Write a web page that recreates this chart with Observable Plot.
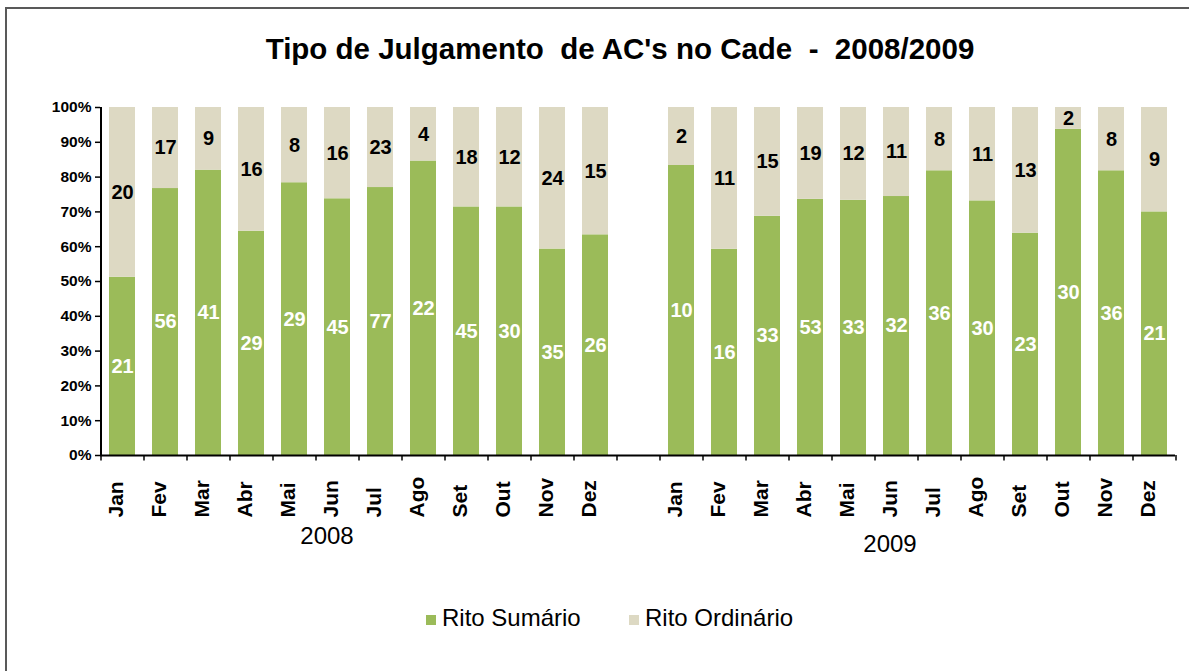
<!DOCTYPE html>
<html>
<head>
<meta charset="utf-8">
<script src="https://cdn.jsdelivr.net/npm/d3@7"></script>
<script src="https://cdn.jsdelivr.net/npm/@observablehq/plot@0.6"></script>
<style>
  html, body { margin: 0; padding: 0; background: #fff; }
  body { width: 1189px; height: 671px; position: relative; overflow: hidden; font-family: "Liberation Sans", Arial, sans-serif; }
  #frame { position: absolute; left: 5px; top: 7px; width: 1300px; height: 800px; border-left: 2px solid #595959; border-top: 2px solid #595959; }
  #title { position: absolute; left: 0; top: 32px; width: 1240px; text-align: center; font-size: 29.5px; font-weight: bold; white-space: pre; color: #000; }
  #chart { position: absolute; left: 0; top: 0; }
  .year { position: absolute; font-size: 24px; color: #000; transform: translateX(-50%); }
  #legend { position: absolute; top: 604px; left: 0; width: 1189px; height: 30px; }
  .lg { position: absolute; top: 0; font-size: 24px; color: #000; white-space: nowrap; }
  .sw { position: absolute; top: 11px; width: 10px; height: 10px; }
</style>
</head>
<body>
<div id="frame"></div>
<div id="title"></div>
<div id="chart"></div>
<div id="years"></div>
<div id="legend"></div>
<script>
const titleText = "Tipo de Julgamento  de AC's no Cade  -  2008/2009";
const months = ["Jan","Fev","Mar","Abr","Mai","Jun","Jul","Ago","Set","Out","Nov","Dez"];
const years = ["2008","2009"];
const series = ["Rito Sumário","Rito Ordinário"];
const colors = ["#9BBB59","#DDD9C3"];
const sumario2008   = [21,56,41,29,29,45,77,22,45,30,35,26];
const ordinario2008 = [20,17, 9,16, 8,16,23, 4,18,12,24,15];
const sumario2009   = [10,16,33,53,33,32,36,30,23,30,36,21];
const ordinario2009 = [ 2,11,15,19,12,11, 8,11,13, 2, 8, 9];
const yTicks = [0,0.1,0.2,0.3,0.4,0.5,0.6,0.7,0.8,0.9,1];

const valuesByYear = {
  "2008": [sumario2008, ordinario2008],
  "2009": [sumario2009, ordinario2009]
};

const domain = [];
const rows = [];
years.forEach((yr, yi) => {
  if (yi > 0) domain.push("gap");
  months.forEach((m, i) => {
    const key = m + " " + yr;
    domain.push(key);
    series.forEach((s, si) => {
      rows.push({key, month: m, year: yr, series: s, value: valuesByYear[yr][si][i]});
    });
  });
});
const labelKeys = domain.filter(d => d !== "gap");

const W = 1189, mL = 100, mR = 14;
const step = (W - mL - mR) / domain.length;

document.getElementById("title").textContent = titleText;

const chart = Plot.plot({
  width: W,
  height: 560,
  marginLeft: mL,
  marginRight: mR,
  marginTop: 107,
  marginBottom: 105,
  style: {fontFamily: "'Liberation Sans', Arial, sans-serif", background: "transparent", overflow: "visible"},
  x: {domain, paddingInner: 0.4, paddingOuter: 0.2, axis: null},
  y: {domain: [0, 1], axis: null},
  color: {domain: series, range: colors},
  marks: [
    Plot.barY(rows, Plot.stackY({x: "key", y: "value", fill: "series", offset: "normalize"})),
    Plot.text(rows, Plot.stackY({
      x: "key", y: "value", z: "series", offset: "normalize",
      text: d => d.series === series[0] ? String(d.value) : "",
      fill: "white", fontWeight: "bold", fontSize: 20
    })),
    Plot.text(rows, Plot.stackY({
      x: "key", y: "value", z: "series", offset: "normalize",
      text: d => d.series === series[1] ? String(d.value) : "",
      fill: "black", fontWeight: "bold", fontSize: 20
    })),
    Plot.axisY({ticks: yTicks, tickFormat: d3.format(".0%"), tickSize: 5, tickPadding: 4, fontSize: 15.5, fontWeight: "bold", label: null, stroke: "black", strokeWidth: 1.5}),
    Plot.ruleX([domain[0]], {x: d => d, dx: -step / 2, y1: 0, y2: 1, stroke: "black", strokeWidth: 2}),
    Plot.ruleY([0], {stroke: "black", strokeWidth: 2}),
    Plot.ruleX(domain, {x: d => d, dx: -step / 2, y1: 0, y2: -0.016, stroke: "black", strokeWidth: 1.5}),
    Plot.ruleX([domain[domain.length - 1]], {x: d => d, dx: step / 2, y1: 0, y2: -0.016, stroke: "black", strokeWidth: 1.5}),
    Plot.text(labelKeys, {
      x: d => d, text: d => d.split(" ")[0],
      frameAnchor: "bottom", dy: 62, rotate: -90, textAnchor: "start",
      fontSize: 21, fontWeight: "bold", fill: "black"
    })
  ]
});
document.getElementById("chart").appendChild(chart);

// year labels
const yearPos = [{x: 327, top: 522}, {x: 890, top: 530}];
const yrDiv = document.getElementById("years");
years.forEach((yr, i) => {
  const d = document.createElement("div");
  d.className = "year";
  d.style.left = yearPos[i].x + "px";
  d.style.top = yearPos[i].top + "px";
  d.textContent = yr;
  yrDiv.appendChild(d);
});

// legend
const lg = document.getElementById("legend");
const lgPos = [426, 629];
series.forEach((s, i) => {
  const sw = document.createElement("div");
  sw.className = "sw";
  sw.style.left = lgPos[i] + "px";
  sw.style.background = colors[i];
  lg.appendChild(sw);
  const t = document.createElement("div");
  t.className = "lg";
  t.style.left = (lgPos[i] + 16) + "px";
  t.textContent = s;
  lg.appendChild(t);
});
</script>
</body>
</html>
